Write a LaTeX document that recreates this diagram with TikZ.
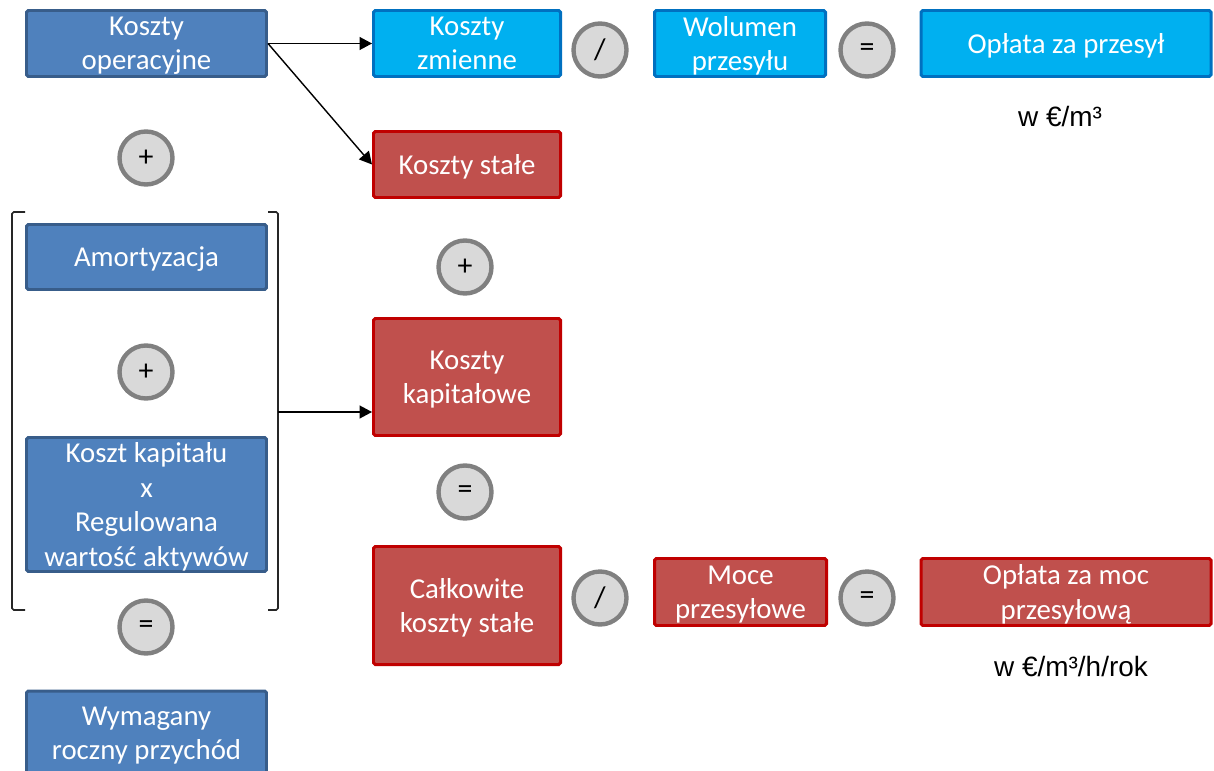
\documentclass[tikz,border=0pt]{standalone}
\usepackage{fontspec}
\setmainfont{Carlito}
\newfontfamily\arialfont{Liberation Sans}
\usetikzlibrary{arrows.meta}
\definecolor{niebieski}{HTML}{4F81BD}
\definecolor{niebieskiR}{HTML}{385D8A}
\definecolor{cyjan}{HTML}{00B0F0}
\definecolor{cyjanR}{HTML}{0070C0}
\definecolor{czerwony}{HTML}{C0504D}
\definecolor{czerwonyR}{HTML}{C00000}
\definecolor{szary}{HTML}{D9D9D9}
\definecolor{szaryR}{HTML}{808080}
\tikzset{
    blok/.style  = {rectangle, line width=1.7pt, text=white, align=center, inner sep=0pt,
                    text depth=-3pt, rounded corners=1pt, font=\fontsize{16.4}{19.6}\selectfont},
    nieb/.style  = {blok, draw=niebieskiR, fill=niebieski},
    cyj/.style   = {blok, draw=cyjanR, fill=cyjan},
    czer/.style  = {blok, draw=czerwonyR, fill=czerwony},
    znak/.style  = {circle, draw=szaryR, fill=szary, line width=2.5pt, minimum size=1.06cm,
                    inner sep=0pt, font=\fontsize{17}{20}\selectfont},
    opis/.style  = {font=\arialfont\fontsize{15.9}{19.1}\selectfont},
    lig/.style   = {-{Triangle[length=2.5mm, width=2.6mm]}, line width=0.8pt, black},
    klamra/.style = {line width=0.9pt, black!85, rounded corners=1pt},
}
\begin{document}
\begin{tikzpicture}
    \clip (0,0) rectangle (24.28,-15.42);
    % lewa kolumna
    \node[nieb, minimum width=4.8cm, minimum height=1.32cm] (operacyjne) at (2.93,-0.87) {Koszty\\operacyjne};
    \node[znak] (plus1) at (2.92,-3.16) {+};
    \node[nieb, minimum width=4.8cm, minimum height=1.30cm] (amortyzacja) at (2.93,-5.14) {Amortyzacja};
    \node[znak] (plus2) at (2.92,-7.44) {+};
    \node[nieb, minimum width=4.8cm, minimum height=2.68cm] (kapital) at (2.93,-10.09) {Koszt kapitału\\x\\Regulowana\\wartość aktywów};
    \node[znak] (rowna1) at (2.92,-12.54) {=};
    \node[nieb, minimum width=4.8cm, minimum height=1.7cm] (przychod) at (2.93,-14.67) {Wymagany\\roczny przychód};
    % klamra
    \draw[klamra] (0.5,-4.24) -- (0.24,-4.24) -- (0.24,-12.2) -- (0.5,-12.2);
    \draw[klamra] (5.36,-4.24) -- (5.56,-4.24) -- (5.56,-12.2) -- (5.36,-12.2);
    \coordinate (srodek) at (5.56,-8.24);
    % gorny wiersz
    \node[cyj, minimum width=3.74cm, minimum height=1.32cm] (zmienne) at (9.34,-0.87) {Koszty\\zmienne};
    \node[znak] (dziel1) at (12.0,-1.0) {/};
    \node[cyj, minimum width=3.42cm, minimum height=1.32cm] (wolumen) at (14.8,-0.87) {Wolumen\\przesyłu};
    \node[znak] (rowna2) at (17.34,-1.0) {=};
    \node[cyj, minimum width=5.8cm, minimum height=1.32cm] (oplata) at (21.32,-0.87) {Opłata za przesył};
    \node[opis] (jedn1) at (21.2,-2.34) {w €/m³};
    % srodkowa kolumna
    \node[czer, minimum width=3.74cm, minimum height=1.32cm] (stale) at (9.34,-3.29) {Koszty stałe};
    \node[znak] (plus3) at (9.3,-5.34) {+};
    \node[czer, minimum width=3.74cm, minimum height=2.34cm] (kapitalowe) at (9.34,-7.54) {Koszty\\kapitałowe};
    \node[znak] (rowna3) at (9.3,-9.84) {=};
    \node[czer, minimum width=3.74cm, minimum height=2.36cm] (calkowite) at (9.34,-12.11) {Całkowite\\koszty stałe};
    % dolny wiersz
    \node[znak] (dziel2) at (12.0,-11.96) {/};
    \node[czer, minimum width=3.44cm, minimum height=1.34cm] (moce) at (14.81,-11.84) {Moce\\przesyłowe};
    \node[znak] (rowna4) at (17.34,-11.96) {=};
    \node[czer, minimum width=5.8cm, minimum height=1.34cm] (oplmoc) at (21.32,-11.84) {Opłata za moc\\przesyłową};
    \node[opis] (jedn2) at (21.42,-13.34) {w €/m³/h/rok};
    % strzalki
    \draw[lig] (operacyjne.east) -- (zmienne.west);
    \draw[lig] (operacyjne.east) -- (stale.west);
    \draw[lig] (srodek) -- (srodek -| kapitalowe.west);
\end{tikzpicture}
\end{document}
